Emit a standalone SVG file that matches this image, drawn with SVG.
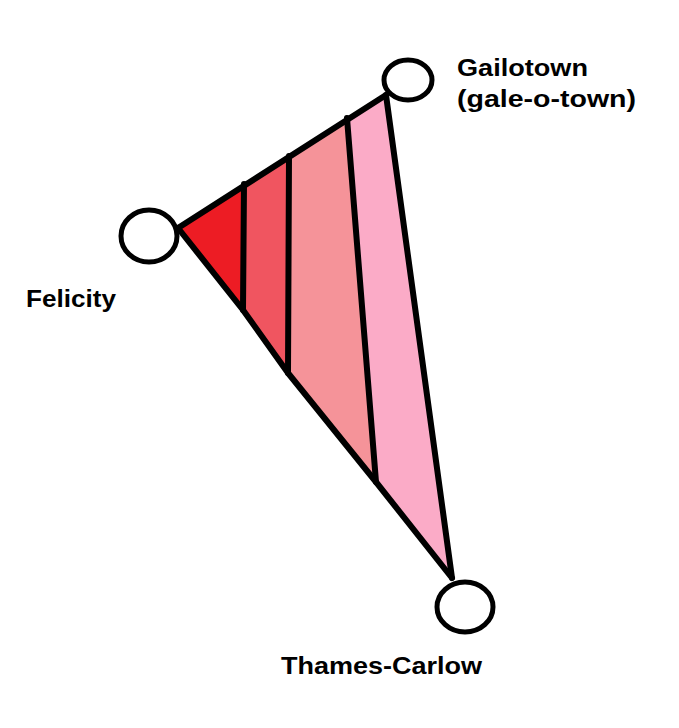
<svg xmlns="http://www.w3.org/2000/svg" width="679" height="728" viewBox="0 0 679 728">
<style>
.edge{stroke:#000;stroke-width:6;fill:none;stroke-linecap:round;stroke-linejoin:round}
.node{fill:#fff;stroke:#000;stroke-width:5}
.lbl{font-family:"Liberation Sans",Arial,sans-serif;font-weight:bold;font-size:24px;fill:#000}
</style>
<rect width="679" height="728" fill="#fff"/>
<g id="bands">
<polygon points="178,228 244,185 243,310" fill="#ED1C24"/>
<polygon points="244,185 289,156 288,373 243,310" fill="#F05560"/>
<polygon points="289,156 347,118 376,482 288,373" fill="#F59399"/>
<polygon points="347,118 386,95 452,578 376,482" fill="#FBABC7"/>
</g>
<g id="connectors">
<line class="edge" x1="178" y1="228" x2="386" y2="95"/>
<polyline class="edge" points="178,228 243,310 288,373 376,482 452,578"/>
<line class="edge" x1="386" y1="95" x2="452" y2="578"/>
<line class="edge" x1="244" y1="184" x2="243" y2="310"/>
<line class="edge" x1="289" y1="156" x2="288" y2="373"/>
<line class="edge" x1="347" y1="118" x2="376" y2="482"/>
</g>
<g id="gailotown">
<ellipse class="node" cx="408" cy="80" rx="24" ry="20"/>
<text class="lbl" x="457" y="76" textLength="131" lengthAdjust="spacingAndGlyphs">Gailotown</text>
<text class="lbl" x="457" y="107" textLength="179" lengthAdjust="spacingAndGlyphs">(gale-o-town)</text>
</g>
<g id="felicity">
<ellipse class="node" cx="149" cy="236" rx="28" ry="26"/>
<text class="lbl" x="26" y="307" textLength="90" lengthAdjust="spacingAndGlyphs">Felicity</text>
</g>
<g id="thames-carlow">
<ellipse class="node" cx="465" cy="607" rx="28" ry="25"/>
<text class="lbl" x="281" y="674" textLength="201" lengthAdjust="spacingAndGlyphs">Thames-Carlow</text>
</g>
</svg>
